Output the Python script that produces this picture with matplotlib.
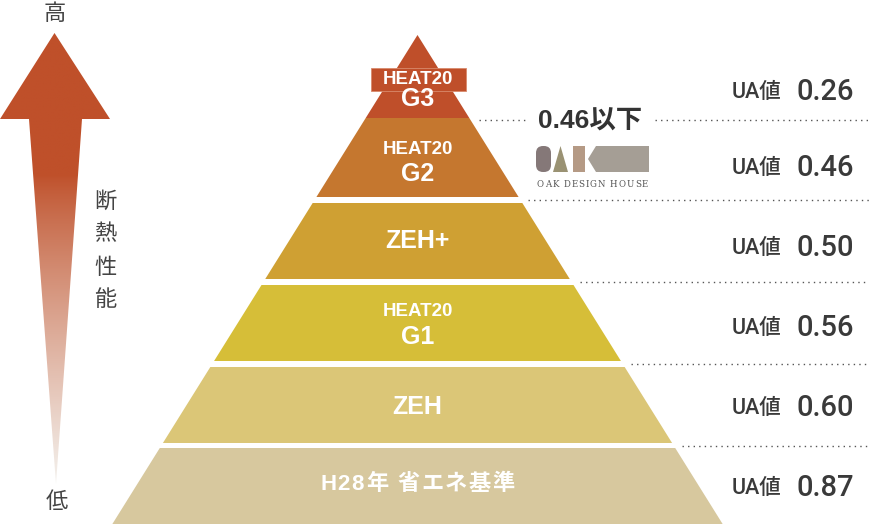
import matplotlib
matplotlib.use("Agg")
import matplotlib.pyplot as plt
import numpy as np
from matplotlib.patches import Polygon, Rectangle, FancyBboxPatch

# levels, top to bottom
levels = ["HEAT20\nG3", "HEAT20\nG2", "ZEH+", "HEAT20\nG1", "ZEH", "H28年 省エネ基準"]
ua_values = [0.26, 0.46, 0.50, 0.56, 0.60, 0.87]
level_colors = ["#BF4F2A", "#C5772F", "#CFA033", "#D6BE38", "#DBC677", "#D7C89E"]
ua_prefix = "UA値"
highlight = "0.46以下"
brand = "OAK DESIGN HOUSE"
axis_label = "断熱性能"
high_label, low_label = "高", "低"

# layout in pixels (figure is 869 x 525)
W, H = 869, 525
cx, apex_y, slope = 417.5, 35, 0.624
band_top = [35, 118, 203, 285, 367, 448]
band_bot = [118, 197, 279, 361, 443, 524]
label_y = [(79, 99), (149, 174), 241, (312, 337), 407, 484]
ua_y = [92, 168, 248, 328, 408, 488]
dot_y = [120, 200, 282, 364, 446]

sans = ["Liberation Sans", "Noto Sans CJK JP", "DejaVu Sans"]
cjk = ["Noto Sans CJK JP", "DejaVu Sans"]
dark = "#3A3A3A"


def half_w(y):
    return (y - apex_y) * slope


def tracked_text(ax, x_center, y, s, track, **kw):
    # draw string char by char with extra spacing, centred on x_center
    r = ax.figure.canvas.get_renderer()
    widths = []
    for ch in s:
        t = ax.text(0, 0, ch if ch != " " else "a", **kw)
        bb = t.get_window_extent(renderer=r)
        widths.append(bb.width if ch != " " else bb.width * 0.5)
        t.remove()
    total = sum(widths) + track * (len(s) - 1)
    x = x_center - total / 2
    for ch, w in zip(s, widths):
        if ch != " ":
            ax.text(x + w / 2, y, ch, ha="center", **kw)
        x += w + track


fig = plt.figure(figsize=(W / 100, H / 100), dpi=100)
ax = fig.add_axes([0, 0, 1, 1])
ax.set_xlim(0, W)
ax.set_ylim(H, 0)
ax.axis("off")

# pyramid bands
for i, name in enumerate(levels):
    t, b = band_top[i], band_bot[i]
    pts = [(cx - half_w(t), t), (cx + half_w(t), t),
           (cx + half_w(b), b), (cx - half_w(b), b)]
    ax.add_patch(Polygon(pts, closed=True, color=level_colors[i], lw=0))

    lines = name.split("\n")
    if len(lines) == 2:
        y1, y2 = label_y[i]
        if i == 0:
            ax.add_patch(Rectangle((371, 68), 95, 23, facecolor=level_colors[i],
                                   edgecolor="#D98A6C", lw=0.6))
        ax.text(cx, y1, lines[0], ha="center", va="center", color="white",
                fontsize=13.5, fontweight="bold", family=sans)
        ax.text(cx, y2, lines[1], ha="center", va="center", color="white",
                fontsize=18, fontweight="bold", family=sans)
    elif i == len(levels) - 1:
        tracked_text(ax, cx, label_y[i], name, 1.6, va="center", color="white",
                     fontsize=16, fontweight="bold", family=sans)
    else:
        ax.text(cx, label_y[i], name, ha="center", va="center", color="white",
                fontsize=18, fontweight="bold", family=sans)

# dotted separators
for k, y in enumerate(dot_y):
    x0 = cx + half_w(y) + 8
    if k == 0:
        ax.plot([x0, 527], [y, y], color="#555555", lw=1.0, linestyle=(0, (1, 3)))
        ax.plot([655, W], [y, y], color="#555555", lw=1.0, linestyle=(0, (1, 3)))
    else:
        ax.plot([x0, W], [y, y], color="#555555", lw=1.0, linestyle=(0, (1, 3)))

# UA values
num_font = ["Roboto", "Liberation Sans", "Noto Sans CJK JP"]
for v, y in zip(ua_values, ua_y):
    ax.text(732, y, ua_prefix, ha="left", va="center", color=dark,
            fontsize=15.5, fontweight="medium", family=num_font)
    ax.text(796, y, f"{v:.2f}", ha="left", va="center", color=dark,
            fontsize=21, fontweight="medium", family=num_font)

# highlight + logo
ax.text(590, 122, highlight, ha="center", va="center", color="#333333",
        fontsize=19, fontweight="bold", family=sans)
ax.add_patch(FancyBboxPatch((536, 146), 15, 26, boxstyle="round,pad=0,rounding_size=7",
                            color="#857878", lw=0))
ax.add_patch(Polygon([(553, 172), (560.5, 146), (568, 172)], color="#9A9273", lw=0))
ax.add_patch(Rectangle((573, 146), 12, 26, color="#B59A85", lw=0))
ax.add_patch(Polygon([(588, 159), (596, 146), (649, 146), (649, 172), (596, 172)],
                     color="#A59E95", lw=0))
tracked_text(ax, 592.5, 184.5, brand, 1.05, va="center", color="#555555",
             fontsize=6.2, family=["DejaVu Serif"])

# gradient arrow
arrow_pts = [(0, 119), (54.5, 33), (110, 119), (82, 119), (56, 484), (29, 119)]
arrow = Polygon(arrow_pts, closed=True, facecolor="none", edgecolor="none")
ax.add_patch(arrow)
ys = np.linspace(30, 490, 400)
top_c = np.array([191, 80, 42]) / 255
bot_c = np.array([244, 242, 238]) / 255
frac = np.clip((ys - 175) / (485 - 175), 0, 1) ** 0.85
grad = top_c[None, :] * (1 - frac[:, None]) + bot_c[None, :] * frac[:, None]
im = ax.imshow(grad[:, None, :], extent=[0, 110, 490, 30], aspect="auto",
               origin="upper", interpolation="bilinear")
im.set_clip_path(arrow)
ax.set_xlim(0, W)
ax.set_ylim(H, 0)

ax.text(54.5, 13, high_label, ha="center", va="center", color="#444444",
        fontsize=16, family=cjk)
ax.text(57, 502, low_label, ha="center", va="center", color="#444444",
        fontsize=16, family=cjk)
for j, ch in enumerate(axis_label):
    ax.text(105, 201 + j * 33, ch, ha="center", va="center", color="#444444",
            fontsize=16, family=cjk)

fig.savefig("out.png", dpi=100)
